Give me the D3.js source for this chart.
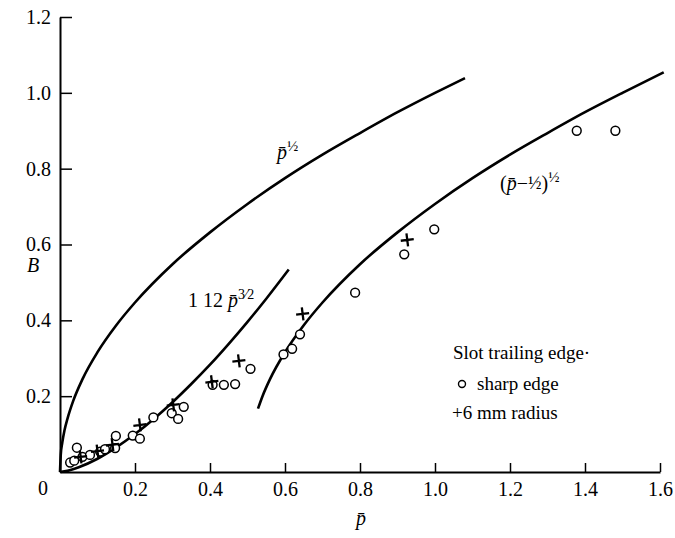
<!DOCTYPE html>
<html>
<head>
<meta charset="utf-8">
<script src="https://cdn.jsdelivr.net/npm/d3@7"></script>
<style>
body { margin: 0; background: #fff; }
svg text { font-family: 'Liberation Serif', 'Times New Roman', 'DejaVu Serif', serif; fill: #000; }
</style>
</head>
<body>
<script>
// B against p-bar, slot trailing edge data

// theory curve p^(1/2)
var rootP = [0, 0.002, 0.006, 0.012, 0.02, 0.035, 0.06, 0.1, 0.15, 0.2, 0.3, 0.4, 0.5, 0.6, 0.7, 0.8, 0.9, 1.0, 1.08];
var rootB = [0, 0.045, 0.077, 0.110, 0.141, 0.187, 0.245, 0.316, 0.387, 0.447, 0.548, 0.632, 0.707, 0.775, 0.837, 0.894, 0.949, 1.0, 1.039];

// theory curve 1.12 p^(3/2)
var powP = [0, 0.02, 0.05, 0.1, 0.15, 0.2, 0.25, 0.3, 0.35, 0.4, 0.45, 0.5, 0.55, 0.61];
var powB = [0, 0.003, 0.0125, 0.035, 0.065, 0.100, 0.140, 0.184, 0.232, 0.283, 0.338, 0.396, 0.457, 0.534];

// theory curve (p - 1/2)^(1/2)
var shiftP = [0.528, 0.54, 0.56, 0.6, 0.65, 0.7, 0.8, 0.9, 1.0, 1.1, 1.2, 1.3, 1.4, 1.5, 1.61];
var shiftB = [0.167, 0.2, 0.245, 0.316, 0.387, 0.447, 0.548, 0.632, 0.707, 0.775, 0.837, 0.894, 0.949, 1.0, 1.054];

// sharp edge (circles)
var sharpP = [0.027, 0.038, 0.045, 0.06, 0.08, 0.107, 0.12, 0.147, 0.149, 0.194, 0.213, 0.249, 0.298, 0.315, 0.33, 0.407, 0.437, 0.467, 0.508, 0.596, 0.619, 0.64, 0.787, 0.918, 0.998, 1.378, 1.481];
var sharpB = [0.025, 0.03, 0.064, 0.04, 0.045, 0.054, 0.06, 0.063, 0.095, 0.096, 0.088, 0.144, 0.155, 0.14, 0.172, 0.23, 0.23, 0.232, 0.272, 0.31, 0.325, 0.363, 0.473, 0.574, 0.64, 0.90, 0.90];

// 6 mm radius (crosses)
var radiusP = [0.055, 0.1, 0.14, 0.213, 0.302, 0.405, 0.477, 0.647, 0.926];
var radiusB = [0.04, 0.055, 0.072, 0.124, 0.177, 0.238, 0.293, 0.417, 0.612];

var xTicks = [0.2, 0.4, 0.6, 0.8, 1.0, 1.2, 1.4, 1.6];
var yTicks = [0.2, 0.4, 0.6, 0.8, 1.0, 1.2];

var width = 675, height = 538;
var serif = "'Liberation Serif', 'Times New Roman', serif";

var svg = d3.select("body").append("svg")
	.attr("width", width)
	.attr("height", height)
	.attr("font-family", serif);

var x = d3.scaleLinear().domain([0, 1.6]).range([60, 660]);
var y = d3.scaleLinear().domain([0, 1.2]).range([472, 17]);

function zipPts(px, py){
	return px.map(function(p, i){ return [p, py[i]]; });
}

//axes, ticks point inwards
var xAxis = svg.append("g")
	.attr("transform", "translate(0," + y(0) + ")")
	.call(d3.axisBottom(x).tickValues(xTicks).tickFormat(d3.format(".1f"))
		.tickSizeInner(-9).tickSizeOuter(0).tickPadding(10));

var yAxis = svg.append("g")
	.attr("transform", "translate(" + x(0) + ",0)")
	.call(d3.axisLeft(y).tickValues(yTicks).tickFormat(d3.format(".1f"))
		.tickSizeInner(-12).tickSizeOuter(0).tickPadding(9));

[xAxis, yAxis].forEach(function(g){
	g.attr("font-family", serif).attr("font-size", 20);
	g.select(".domain").attr("stroke", "#000").attr("stroke-width", 2);
	g.selectAll(".tick line").attr("stroke", "#000").attr("stroke-width", 1.5);
});

svg.append("text")
	.attr("x", 43).attr("y", 495)
	.attr("text-anchor", "middle")
	.attr("font-size", 20)
	.text("0");

//axis titles
svg.append("text")
	.attr("x", 33).attr("y", 272)
	.attr("text-anchor", "middle")
	.attr("font-size", 20).attr("font-style", "italic")
	.text("B");

svg.append("text")
	.attr("x", 361).attr("y", 525)
	.attr("text-anchor", "middle")
	.attr("font-size", 20).attr("font-style", "italic")
	.text("p\u0304");

//theory curves
var line = d3.line()
	.x(function(d){ return x(d[0]); })
	.y(function(d){ return y(d[1]); })
	.curve(d3.curveMonotoneX);

[[rootP, rootB], [powP, powB], [shiftP, shiftB]].forEach(function(c){
	svg.append("path")
		.datum(zipPts(c[0], c[1]))
		.attr("fill", "none")
		.attr("stroke", "#000")
		.attr("stroke-width", 2.6)
		.attr("d", line);
});

//data points
svg.selectAll(".sharp")
	.data(zipPts(sharpP, sharpB))
	.enter()
	.append("circle")
	.attr("class", "sharp")
	.attr("cx", function(d){ return x(d[0]); })
	.attr("cy", function(d){ return y(d[1]); })
	.attr("r", 4.4)
	.attr("fill", "#fff")
	.attr("stroke", "#000")
	.attr("stroke-width", 1.5);

svg.selectAll(".radius")
	.data(zipPts(radiusP, radiusB))
	.enter()
	.append("path")
	.attr("class", "radius")
	.attr("transform", function(d){ return "translate(" + x(d[0]) + "," + y(d[1]) + ")"; })
	.attr("d", "M-6.5,0.8L6.5,-0.8M-0.8,-6.5L0.8,6.5")
	.attr("fill", "none")
	.attr("stroke", "#000")
	.attr("stroke-width", 2.3);

//curve labels
function curveLabel(lx, ly, parts){
	var t = svg.append("text").attr("x", lx).attr("y", ly).attr("font-size", 20);
	parts.forEach(function(p){
		var s = t.append("tspan").text(p.text);
		if (p.italic) s.attr("font-style", "italic");
		if (p.size) s.attr("font-size", p.size);
		if (p.dy) s.attr("dy", p.dy);
	});
}

curveLabel(277, 159, [
	{text: "p\u0304", italic: true},
	{text: "\u00bd", size: 15, dy: -8}
]);

curveLabel(188, 307, [
	{text: "1 12 "},
	{text: "p\u0304", italic: true},
	{text: "3\u20442", size: 14, dy: -8}
]);

curveLabel(500, 190, [
	{text: "("},
	{text: "p\u0304", italic: true},
	{text: "\u2212"},
	{text: "\u00bd", size: 18, dy: -1},
	{text: ")", dy: 1},
	{text: "\u00bd", size: 15, dy: -8}
]);

//legend
svg.append("text")
	.attr("x", 453).attr("y", 359)
	.attr("font-size", 19)
	.text("Slot trailing edge\u00b7");

svg.append("circle")
	.attr("cx", 462).attr("cy", 384)
	.attr("r", 3.5)
	.attr("fill", "#fff")
	.attr("stroke", "#000")
	.attr("stroke-width", 1.4);

svg.append("text")
	.attr("x", 477).attr("y", 390)
	.attr("font-size", 19)
	.text("sharp edge");

svg.append("text")
	.attr("x", 452).attr("y", 419)
	.attr("font-size", 19)
	.text("+6 mm radius");
</script>
</body>
</html>
